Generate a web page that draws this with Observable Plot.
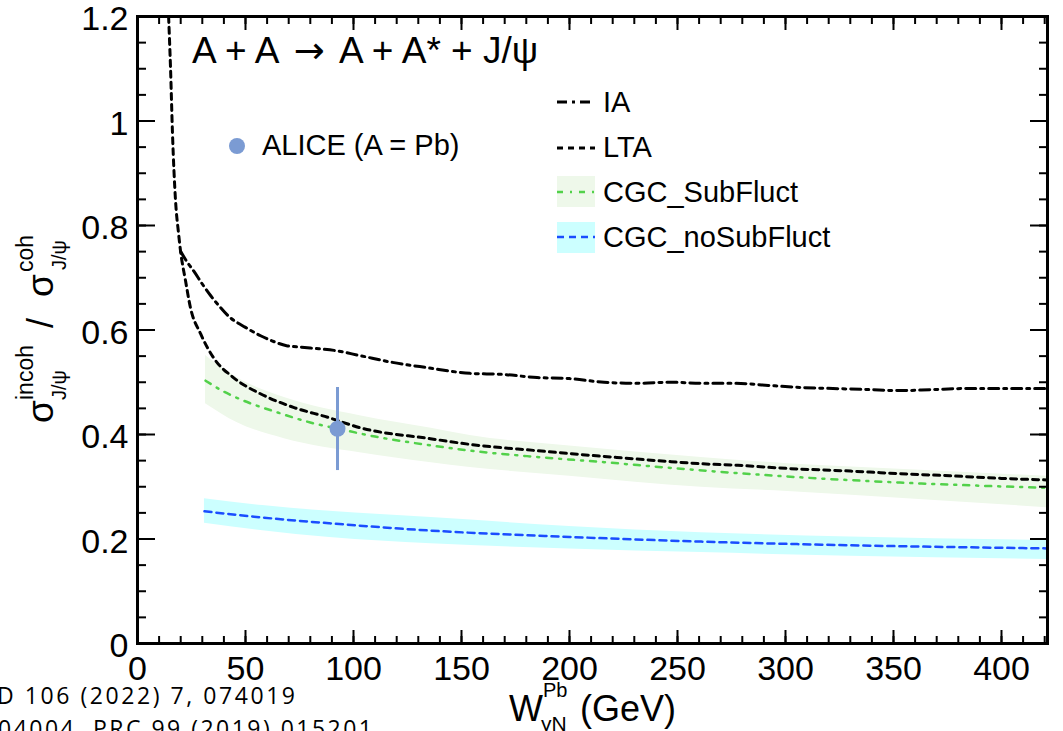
<!DOCTYPE html>
<html><head><meta charset="utf-8">
<script src="https://cdn.jsdelivr.net/npm/d3@7"></script>
<script src="https://cdn.jsdelivr.net/npm/@observablehq/plot@0.6"></script>
<style>
html,body{margin:0;padding:0;background:#fff;overflow:hidden;}
#chart{position:relative;width:1063px;height:731px;}
</style></head><body><div id="chart"></div>
<script>
// ---- data ----
const iaW = [20, 23, 26, 30, 34, 38, 42, 50, 57, 63, 69, 76, 84, 91, 103, 118, 134, 154, 169, 185, 200, 216, 231, 247, 262, 277, 292, 307, 322, 338, 353, 368, 384, 400, 421];
const iaR = [0.750, 0.730, 0.713, 0.688, 0.665, 0.645, 0.627, 0.605, 0.589, 0.578, 0.570, 0.567, 0.564, 0.561, 0.551, 0.538, 0.528, 0.517, 0.515, 0.509, 0.507, 0.500, 0.498, 0.500, 0.498, 0.498, 0.494, 0.490, 0.488, 0.486, 0.484, 0.486, 0.488, 0.488, 0.488];

const ltaW = [14.4, 15.3, 16.2, 17.6, 19.0, 19.9, 22.2, 24.5, 29.2, 35.2, 44.4, 56.9, 72.2, 88, 103, 135.6, 154, 185, 216, 247, 261, 278, 301, 330, 353, 376, 400, 421];
const ltaR = [1.2, 1.10, 0.976, 0.848, 0.785, 0.752, 0.695, 0.643, 0.593, 0.547, 0.509, 0.478, 0.452, 0.433, 0.413, 0.392, 0.381, 0.369, 0.358, 0.348, 0.344, 0.341, 0.335, 0.330, 0.325, 0.321, 0.316, 0.313];

const subW = [31.5, 40, 49, 65, 80, 93, 110, 136, 154, 185, 216, 247, 278, 307, 353, 390, 421];
const subR = [0.503, 0.482, 0.465, 0.442, 0.423, 0.411, 0.396, 0.379, 0.369, 0.357, 0.347, 0.336, 0.326, 0.318, 0.308, 0.302, 0.298];
const subBandW = [31.5, 46, 68, 103, 136, 154, 200, 261, 301, 360, 421];
const subHi = [0.551, 0.509, 0.471, 0.436, 0.412, 0.398, 0.378, 0.356, 0.344, 0.332, 0.320];
const subLo = [0.459, 0.423, 0.392, 0.365, 0.346, 0.337, 0.320, 0.299, 0.291, 0.276, 0.260];

const noSubW = [31, 58, 89, 136, 200, 261, 330, 421];
const noSubR = [0.253, 0.241, 0.230, 0.216, 0.204, 0.195, 0.188, 0.182];
const noSubHi = [0.277, 0.264, 0.253, 0.241, 0.224, 0.212, 0.204, 0.197];
const noSubLo = [0.230, 0.216, 0.203, 0.191, 0.181, 0.174, 0.167, 0.161];

const aliceW = [92.6];
const aliceR = [0.411];
const aliceLo = [0.331];
const aliceHi = [0.490];

const xMajor = [0, 50, 100, 150, 200, 250, 300, 350, 400];
const xMinor = d3.range(0, 43).map(i => i * 10);
const yMajor = [0, 0.2, 0.4, 0.6, 0.8, 1, 1.2];
const yMinor = d3.range(0, 25).map(i => i * 0.05);

// ---- tables ----
const ia = iaW.map((w, i) => ({w, r: iaR[i]}));
const lta = ltaW.map((w, i) => ({w, r: ltaR[i]}));
const sub = subW.map((w, i) => ({w, r: subR[i]}));
const subBand = subBandW.map((w, i) => ({w, lo: subLo[i], hi: subHi[i]}));
const noSub = noSubW.map((w, i) => ({w, r: noSubR[i], lo: noSubLo[i], hi: noSubHi[i]}));
const alice = aliceW.map((w, i) => ({w, r: aliceR[i], lo: aliceLo[i], hi: aliceHi[i]}));

const F = "'Liberation Sans', Arial, Helvetica, sans-serif";
const GREEN = "#52d14a", GREENBAND = "#eef8ea", BLUE = "#1a4dff", BLUEBAND = "#ccffff", ALICE = "#7b9bd3";
const IA_DASH = "10,5,3,5", LTA_DASH = "6,5", SUB_DASH = "6,7,2,7", NOSUB_DASH = "7,5";

const svg = Plot.plot({
  width: 1063, height: 731,
  marginLeft: 137, marginRight: 16, marginTop: 16, marginBottom: 88,
  x: {domain: [0, 421.3], label: null},
  y: {domain: [0, 1.2], label: null},
  style: {background: "white", fontFamily: F, color: "black", overflow: "visible"},
  marks: [
    Plot.areaY(subBand, {x: "w", y1: "lo", y2: "hi", fill: GREENBAND, curve: "monotone-x"}),
    Plot.areaY(noSub, {x: "w", y1: "lo", y2: "hi", fill: BLUEBAND, curve: "monotone-x"}),
    Plot.line(sub, {x: "w", y: "r", stroke: GREEN, strokeWidth: 2.5, strokeDasharray: SUB_DASH, curve: "monotone-x"}),
    Plot.line(noSub, {x: "w", y: "r", stroke: BLUE, strokeWidth: 2.5, strokeDasharray: NOSUB_DASH, curve: "monotone-x"}),
    Plot.line(lta, {x: "w", y: "r", stroke: "black", strokeWidth: 3, strokeDasharray: LTA_DASH, curve: "monotone-x", clip: true}),
    Plot.line(ia, {x: "w", y: "r", stroke: "black", strokeWidth: 3, strokeDasharray: IA_DASH, curve: "monotone-x", clip: true}),
    Plot.ruleX(alice, {x: "w", y1: "lo", y2: "hi", stroke: ALICE, strokeWidth: 3}),
    Plot.dot(alice, {x: "w", y: "r", r: 8, fill: ALICE, stroke: null}),
    // inward ticks on all four sides
    Plot.axisX({ticks: xMinor, tickSize: -7, tickFormat: () => "", strokeWidth: 2, label: null}),
    Plot.axisX({ticks: xMajor, tickSize: -13, tickFormat: () => "", strokeWidth: 2, label: null}),
    Plot.axisX({anchor: "top", ticks: xMinor, tickSize: -7, tickFormat: () => "", strokeWidth: 2, label: null}),
    Plot.axisX({anchor: "top", ticks: xMajor, tickSize: -13, tickFormat: () => "", strokeWidth: 2, label: null}),
    Plot.axisY({ticks: yMinor, tickSize: -9, tickFormat: () => "", strokeWidth: 2, label: null}),
    Plot.axisY({ticks: yMajor, tickSize: -18, tickFormat: () => "", strokeWidth: 2, label: null}),
    Plot.axisY({anchor: "right", ticks: yMinor, tickSize: -9, tickFormat: () => "", strokeWidth: 2, label: null}),
    Plot.axisY({anchor: "right", ticks: yMajor, tickSize: -18, tickFormat: () => "", strokeWidth: 2, label: null}),
    // tick labels
    Plot.axisX({ticks: xMajor, tickSize: 0, tickPadding: 12, tickFormat: d => String(d), fontSize: 34, label: null}),
    Plot.axisY({ticks: yMajor, tickSize: 0, tickPadding: 9, tickFormat: d => String(d), fontSize: 34, dy: 3, label: null}),
    Plot.frame({stroke: "black", strokeWidth: 3})
  ]
});
document.getElementById("chart").append(svg);

const s = d3.select(svg);
function txt(g, x, y, str, size, anchor = "start", family = F) {
  return g.append("text").attr("x", x).attr("y", y).attr("font-size", size)
    .attr("font-family", family).attr("text-anchor", anchor).attr("fill", "black")
    .attr("stroke", "none").text(str);
}
function seg(x1, x2, y, color, w, dash) {
  s.append("line").attr("x1", x1).attr("x2", x2).attr("y1", y).attr("y2", y)
    .attr("stroke", color).attr("stroke-width", w).attr("stroke-dasharray", dash);
}

// title (arrow taken from DejaVu Sans for a longer glyph)
const title = s.append("text").attr("x", 192).attr("y", 63).attr("font-size", 37)
  .attr("font-family", F).attr("text-anchor", "start").attr("fill", "black");
title.append("tspan").text("A + A ");
title.append("tspan").attr("dx", 6).attr("font-family", "'DejaVu Sans', sans-serif").text("\u2192");
title.append("tspan").attr("dx", 6).text(" A + A* + J/\u03c8");

// ALICE legend
s.append("circle").attr("cx", 237).attr("cy", 146).attr("r", 8).attr("fill", ALICE);
txt(s, 262, 155, "ALICE (A = Pb)", 29);

// model legend
seg(557, 592, 102, "black", 3, IA_DASH);
txt(s, 603, 112, "IA", 29);
seg(557, 595, 148, "black", 3, LTA_DASH);
txt(s, 603, 157, "LTA", 29);
s.append("rect").attr("x", 557).attr("y", 176).attr("width", 38).attr("height", 31).attr("fill", GREENBAND);
seg(557, 595, 192, GREEN, 2.5, SUB_DASH);
txt(s, 603, 202, "CGC_SubFluct", 29);
s.append("rect").attr("x", 557).attr("y", 222).attr("width", 38).attr("height", 31).attr("fill", BLUEBAND);
seg(557, 595, 237, BLUE, 2.5, NOSUB_DASH);
txt(s, 603, 247, "CGC_noSubFluct", 29);

// x-axis title
txt(s, 509, 721, "W", 36);
txt(s, 543, 697, "Pb", 20);
txt(s, 541, 731, "\u03b3N", 21);
txt(s, 580, 721, "(GeV)", 36);

// y-axis title (rotated)
const yg = s.append("g").attr("transform", "translate(53,330) rotate(-90)");
txt(yg, -93, 0, "\u03c3", 37);
txt(yg, -70, -20, "incoh", 23);
txt(yg, -70, 13, "J/\u03c8", 20);
txt(yg, 2, 0, "/", 36);
txt(yg, 33, 0, "\u03c3", 37);
txt(yg, 58, -20, "coh", 23);
txt(yg, 60, 13, "J/\u03c8", 20);

// reference text at bottom-left (cut off in the original)
txt(s, -3, 704, "D 106 (2022) 7, 074019", 23, "start", "'Open Sans', sans-serif")
  .attr("textLength", 298).attr("lengthAdjust", "spacing");
txt(s, -2, 737, "04004, PRC 99 (2019) 015201", 23, "start", "'Open Sans', sans-serif")
  .attr("textLength", 374).attr("lengthAdjust", "spacing");
</script>
</body></html>
